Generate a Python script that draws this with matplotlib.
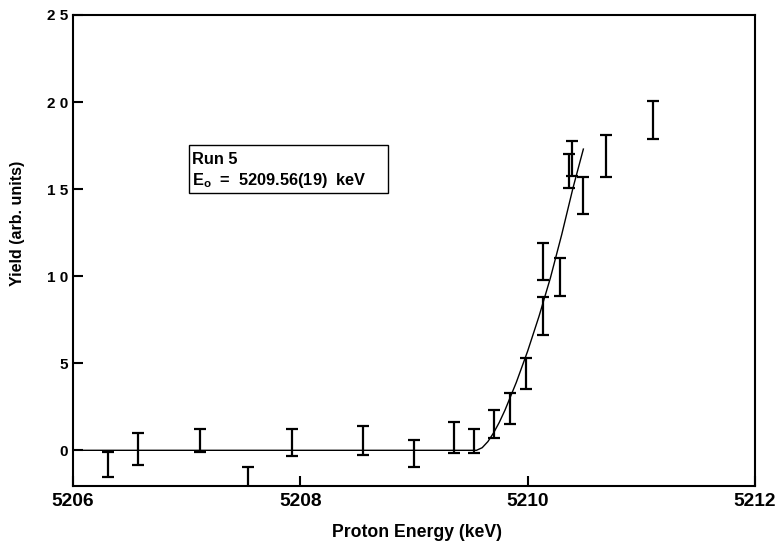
import matplotlib
matplotlib.use("Agg")
import matplotlib.pyplot as plt
from matplotlib.patches import Rectangle

plt.rcParams['font.family'] = ['Liberation Sans', 'DejaVu Sans']
plt.rcParams['font.weight'] = 'bold'
plt.rcParams['mathtext.fontset'] = 'custom'
plt.rcParams['mathtext.rm'] = 'Liberation Sans:bold'
plt.rcParams['mathtext.it'] = 'Liberation Sans:bold'

# --- data ---
energy = [5206.305, 5206.575, 5207.114, 5207.54, 5207.93, 5208.553, 5209.0,
          5209.35, 5209.53, 5209.705, 5209.846, 5209.984, 5210.134, 5210.134,
          5210.283, 5210.39, 5210.365, 5210.49, 5210.69, 5211.10]
yield_vals = [-0.8, 0.08, 0.57, -1.8, 0.45, 0.55, -0.17, 0.73, 0.53, 1.52,
              2.41, 4.41, 7.7, 10.85, 9.97, 16.77, 16.02, 14.63, 16.89, 18.96]
yield_err = [0.72, 0.9, 0.67, 0.84, 0.8, 0.82, 0.79, 0.88, 0.69, 0.8,
             0.88, 0.89, 1.08, 1.08, 1.08, 1.0, 0.98, 1.08, 1.2, 1.1]

fit_energy = [5206.0, 5209.55, 5209.60, 5209.65, 5209.70, 5209.75, 5209.80,
              5209.90, 5210.00, 5210.10, 5210.20, 5210.30, 5210.40, 5210.49]
fit_yield = [0.0, 0.0, 0.15, 0.5, 1.0, 1.6, 2.3, 3.9, 5.7, 7.7, 9.9, 12.4,
             15.1, 17.3]

x_ticks = [5206, 5208, 5210, 5212]
x_tick_labels = ["5206", "5208", "5210", "5212"]
y_ticks = [0, 5, 10, 15, 20, 25]
y_tick_labels = ["0", "5", "1 0", "1 5", "2 0", "2 5"]

run_label = "Run 5"
e0_label = r"E$_\mathregular{o}$  =  5209.56(19)  keV"

W, H = 775, 542
fig = plt.figure(figsize=(W / 100, H / 100), dpi=100)
L, R, T, B = 73, 755, 15, 486
ax = fig.add_axes([L / W, 1 - B / H, (R - L) / W, (B - T) / H])

ax.plot(fit_energy, fit_yield, color='black', lw=1.0, zorder=2)
ax.errorbar(energy, yield_vals, yerr=yield_err, fmt='none', ecolor='black',
            elinewidth=1.6, capsize=4.5, capthick=1.6, zorder=3)

ax.set_xlim(5206, 5212)
ax.set_ylim(-2.05, 25)
ax.set_xticks(x_ticks)
ax.set_xticklabels(x_tick_labels, fontsize=13.8, fontweight='bold')
ax.set_yticks(y_ticks)
ax.set_yticklabels(y_tick_labels, fontsize=11, fontweight='bold')
ax.tick_params(axis='both', direction='in', length=7.5, width=1.5)
ax.tick_params(axis='x', pad=5)
ax.tick_params(axis='y', pad=3.5)
for s in ax.spines.values():
    s.set_linewidth(1.5)

# annotation box
bx0, bx1 = (189 - L) / (R - L), (388 - L) / (R - L)
by0, by1 = (B - 193) / (B - T), (B - 145) / (B - T)
ax.add_patch(Rectangle((bx0, by0), bx1 - bx0, by1 - by0, transform=ax.transAxes,
                       fill=False, edgecolor='black', lw=1.0, zorder=4))
ax.text((192 - L) / (R - L), (B - 164) / (B - T), run_label, transform=ax.transAxes,
        fontsize=11.8, fontweight='bold', va='baseline', ha='left')
ax.text((192 - L) / (R - L), (B - 184.5) / (B - T), e0_label, transform=ax.transAxes,
        fontsize=11.8, fontweight='bold', va='baseline', ha='left')

fig.text(417 / W, 1 - 537 / H, "Proton Energy (keV)", fontsize=12.7,
         fontweight='bold', ha='center', va='baseline')
fig.text(18 / W, 1 - 223 / H, "Yield (arb. units)", fontsize=11.5,
         fontweight='bold', ha='center', va='center', rotation=90)

fig.savefig("out.png", dpi=100)
